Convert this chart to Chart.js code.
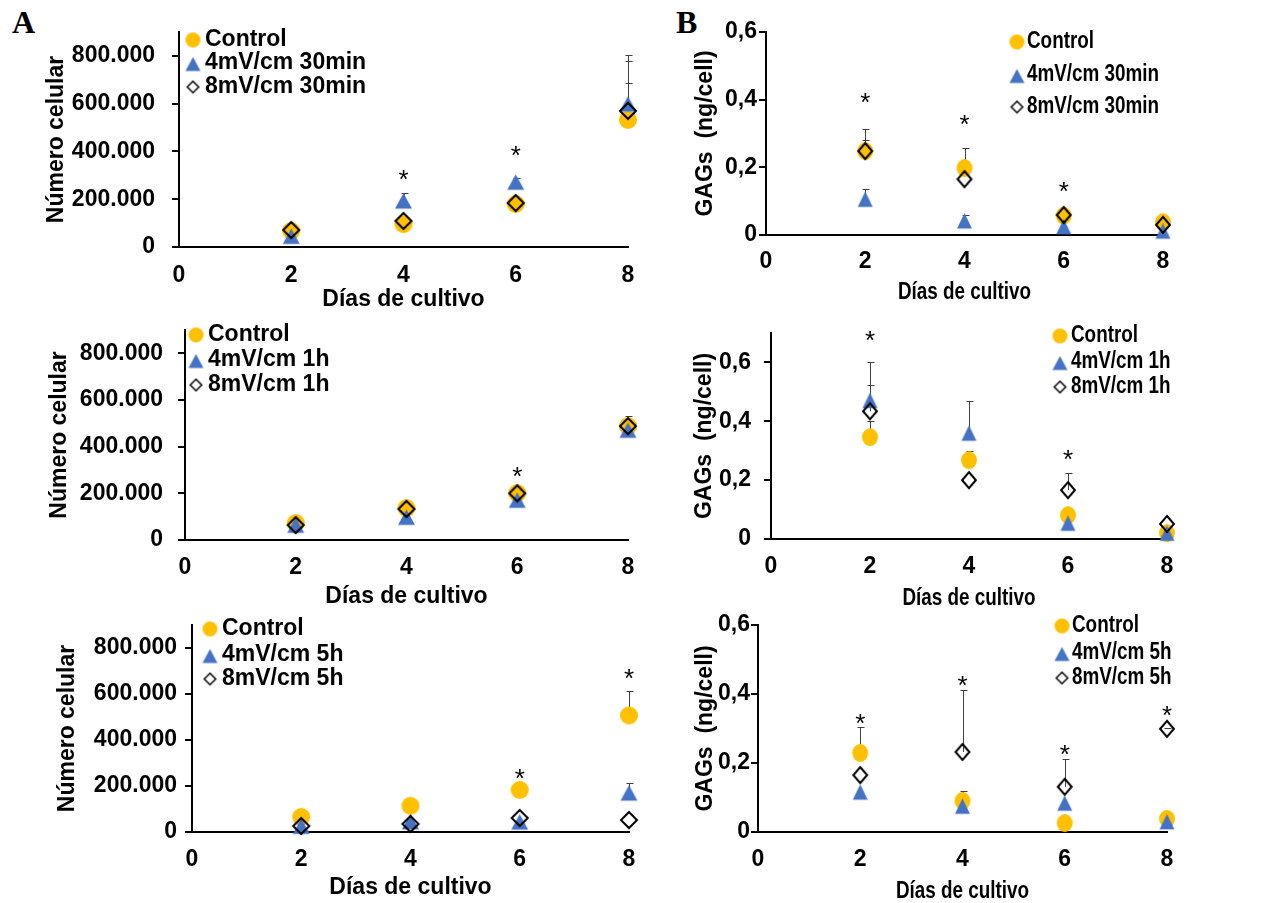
<!DOCTYPE html>
<html>
<head>
<meta charset="utf-8">
<script src="https://cdn.jsdelivr.net/npm/chart.js@4.4.1/dist/chart.umd.min.js"></script>
<style>
  html, body { margin: 0; padding: 0; background: #fff; }
  body { width: 1286px; height: 903px; position: relative; overflow: hidden; }
  canvas { position: absolute; }
  .tag { position: absolute; font-family: "Liberation Serif", "Times New Roman", serif; font-weight: bold; font-size: 32px; line-height: 1; }
</style>
</head>
<body>
<div class="tag" style="left:12px;top:6px">A</div>
<div class="tag" style="left:676px;top:6px">B</div>
<script>
// === DATA ===

const days = [2, 4, 6, 8];
const xTicks = [0, 2, 4, 6, 8];
const cellTicks = [0, 200000, 400000, 600000, 800000];
const gagTicks = [0, 0.2, 0.4, 0.6];

const names30 = ["Control", "4mV/cm 30min", "8mV/cm 30min"];
const names1h = ["Control", "4mV/cm 1h", "8mV/cm 1h"];
const names5h = ["Control", "4mV/cm 5h", "8mV/cm 5h"];

// A - cell number, 30 min
const a1Control = [67000, 96000, 180000, 532000];
const a1Tri = [45000, 193000, 272000, 599000];
const a1Dia = [71000, 109000, 184000, 570000];
const a1ControlErr = [0, 0, 0, 156000];
const a1TriErr = [0, 33000, 15000, 206000];
const a1DiaErr = [0, 0, 0, 210000];
const a1Stars = [null, 310000, 410000, null];

// A - cell number, 1 h
const a2Control = [73000, 137000, 201000, 488000];
const a2Tri = [64000, 98000, 171000, 471000];
const a2Dia = [64000, 133000, 200000, 488000];
const a2ControlErr = [0, 0, 0, 45000];
const a2TriErr = [0, 0, 0, 0];
const a2DiaErr = [0, 0, 0, 0];
const a2Stars = [null, null, 300000, null];

// A - cell number, 5 h
const a3Control = [66000, 114000, 183000, 507000];
const a3Tri = [25000, 45000, 44000, 170000];
const a3Dia = [26000, 35000, 61000, 52000];
const a3ControlErr = [0, 0, 0, 104000];
const a3TriErr = [0, 0, 0, 44000];
const a3DiaErr = [0, 0, 0, 0];
const a3Stars = [null, null, 261000, 696000];

// B - GAGs, 30 min
const b1Control = [0.248, 0.198, 0.057, 0.038];
const b1Tri = [0.106, 0.042, 0.025, 0.012];
const b1Dia = [0.248, 0.165, 0.059, 0.030];
const b1ControlErr = [0.065, 0.059, 0, 0];
const b1TriErr = [0.029, 0.016, 0, 0];
const b1DiaErr = [0.032, 0, 0, 0];
const b1Stars = [0.411, 0.346, 0.148, null];

// B - GAGs, 1 h
const b2Control = [0.346, 0.268, 0.081, 0.02];
const b2Tri = [0.471, 0.36, 0.054, 0.02];
const b2Dia = [0.434, 0.2, 0.166, 0.051];
const b2ControlErr = [0.054, 0.03, 0, 0];
const b2TriErr = [0.13, 0.108, 0, 0];
const b2DiaErr = [0.088, 0, 0.058, 0];
const b2Stars = [0.697, null, 0.292, null];

// B - GAGs, 5 h
const b3Control = [0.229, 0.09, 0.026, 0.038];
const b3Tri = [0.116, 0.075, 0.084, 0.03];
const b3Dia = [0.165, 0.232, 0.131, 0.299];
const b3ControlErr = [0.076, 0.03, 0, 0];
const b3TriErr = [0, 0, 0, 0];
const b3DiaErr = [0, 0.18, 0.081, 0.002];
const b3Stars = [0.333, 0.443, 0.243, 0.357];

// === STYLE ===

const ORANGE = "#FFC000";
const BLUE = "#4472C4";
const FONT = '"Liberation Sans", Arial, sans-serif';
const PAD_TOP = 15;
const PAD_RIGHT = 20;
const PAD_BOTTOM = 2;
const TICK_SIZE = 23;
const TITLE_SIZE = 23;
const TICK_LH = TICK_SIZE * 1.2;

Chart.defaults.font.family = FONT;
Chart.defaults.font.weight = "bold";
Chart.defaults.color = "#000";

function fmtCell(v) {
  return String(v).replace(/\B(?=(\d{3})+(?!\d))/g, ".");
}

function fmtGag(v) {
  return v === 0 ? "0" : v.toFixed(1).replace(".", ",");
}

// === MARKERS (small canvases, sq squeezes them sideways) ===

function makeMarker(kind, size, sq, lw) {
  const w = size * sq, h = size;
  const c = document.createElement("canvas");
  c.width = Math.ceil(w) + 6;
  c.height = Math.ceil(h) + 6;
  const g = c.getContext("2d");
  const cx = c.width / 2, cy = c.height / 2;
  g.beginPath();
  if (kind === "circle") {
    g.ellipse(cx, cy, w / 2, h / 2, 0, 0, Math.PI * 2);
    g.fillStyle = ORANGE;
    g.fill();
  } else if (kind === "triangle") {
    const th = h * 0.92;
    g.moveTo(cx, cy - th / 2);
    g.lineTo(cx + w / 2, cy + th / 2);
    g.lineTo(cx - w / 2, cy + th / 2);
    g.closePath();
    g.fillStyle = BLUE;
    g.fill();
  } else {
    const rw = w / 2 - lw / 2, rh = h / 2 - lw / 2;
    g.moveTo(cx, cy - rh);
    g.lineTo(cx + rw, cy);
    g.lineTo(cx, cy + rh);
    g.lineTo(cx - rw, cy);
    g.closePath();
    g.strokeStyle = "#000";
    g.lineWidth = lw;
    g.lineJoin = "miter";
    g.stroke();
  }
  return c;
}

// === DECOR PLUGIN (error bars, asterisks, legend, x title) ===

function decorPlugin(p, names, stars, legendMarks, toY) {
  return {
    id: "decor",
    beforeDatasetsDraw(chart) {
      const { ctx } = chart;
      const xs = chart.scales.x, ys = chart.scales.y;
      ctx.save();
      ctx.strokeStyle = "#404040";
      ctx.lineWidth = 1;
      chart.data.datasets.forEach(ds => {
        ds.data.forEach((pt, i) => {
          const e = ds.errUp[i];
          if (!e) return;
          const px = Math.round(xs.getPixelForValue(pt.x)) + 0.5;
          const y0 = ys.getPixelForValue(pt.y);
          const y1 = Math.round(ys.getPixelForValue(pt.y + e)) + 0.5;
          ctx.beginPath();
          ctx.moveTo(px, y0);
          ctx.lineTo(px, y1);
          ctx.moveTo(px - 3, y1);
          ctx.lineTo(px + 4, y1);
          ctx.stroke();
        });
      });
      ctx.restore();
    },
    afterDraw(chart) {
      const { ctx, chartArea } = chart;
      const xs = chart.scales.x, ys = chart.scales.y;
      ctx.save();

      // asterisks
      ctx.fillStyle = "#000";
      ctx.font = "26px " + FONT;
      ctx.textAlign = "center";
      ctx.textBaseline = "alphabetic";
      stars.forEach((v, i) => {
        if (v == null) return;
        ctx.fillText("*", xs.getPixelForValue(days[i]), ys.getPixelForValue(v) + 0.58 * 26);
      });

      // x axis title
      ctx.save();
      ctx.translate((chartArea.left + chartArea.right) / 2, toY(p.xTitleY));
      ctx.scale(p.sq, 1);
      ctx.font = "bold " + TITLE_SIZE + "px " + FONT;
      ctx.textBaseline = "middle";
      ctx.fillText("Días de cultivo", 0, 0);
      ctx.restore();

      // legend
      const mx = p.legend.mx - p.x0;
      const tx = p.legend.tx - p.x0;
      ctx.font = "bold 23px " + FONT;
      ctx.textAlign = "left";
      ctx.textBaseline = "middle";
      names.forEach((name, i) => {
        const ly = toY(p.legend.y[i]);
        const m = legendMarks[i];
        ctx.drawImage(m, mx - m.width / 2, ly - m.height / 2 + (i === 1 ? 1 : 0));
        ctx.save();
        ctx.translate(tx, ly);
        ctx.scale(p.sq, 1);
        ctx.fillText(name, 0, 0);
        ctx.restore();
      });
      ctx.restore();
    }
  };
}

// === PANEL BUILDER ===

function makePanel(p, names, control, tri, dia, errs, stars) {
  const x0 = p.x0;
  const cl = p.L - x0;
  const cr = p.R - x0;
  const top = p.T - PAD_TOP;
  const xH = p.xTitleY - p.B + 16;
  const width = cr + PAD_RIGHT;
  const height = Math.round(PAD_TOP + (p.B - p.T) + xH + PAD_BOTTOM);

  const canvas = document.createElement("canvas");
  canvas.width = width;
  canvas.height = height;
  canvas.style.left = x0 + "px";
  canvas.style.top = top + "px";
  document.body.appendChild(canvas);

  const toY = Y => Y - top;
  const pts = vals => days.map((d, i) => ({ x: d, y: vals[i] }));
  const yTickList = p.cell ? cellTicks : gagTicks;
  const msq = p.sq === 1 ? 1 : 0.88;

  const marks = [makeMarker("circle", 18, msq, 0), makeMarker("triangle", 17, msq, 0), makeMarker("diamond", 18, msq, 2)];
  const legendMarks = [makeMarker("circle", 15, 1, 0), makeMarker("triangle", 15, 1, 0), makeMarker("diamond", 13, 1, 1.5)];

  new Chart(canvas, {
    type: "scatter",
    data: {
      datasets: [
        { label: names[0], data: pts(control), errUp: errs[0], pointStyle: marks[0], pointRadius: 9, order: 2, clip: false },
        { label: names[1], data: pts(tri), errUp: errs[1], pointStyle: marks[1], pointRadius: 9, order: 1, clip: false },
        { label: names[2], data: pts(dia), errUp: errs[2], pointStyle: marks[2], pointRadius: 9, order: 0, clip: false }
      ]
    },
    options: {
      responsive: false,
      animation: false,
      events: [],
      layout: { padding: { left: 0, top: PAD_TOP, right: PAD_RIGHT, bottom: PAD_BOTTOM } },
      plugins: { legend: { display: false }, tooltip: { enabled: false } },
      scales: {
        x: {
          type: "linear", min: 0, max: 8,
          afterBuildTicks: s => { s.ticks = xTicks.map(v => ({ value: v })); },
          afterFit: s => { s.height = xH; s.paddingLeft = 0; s.paddingRight = 0; },
          grid: { display: false, drawTicks: false },
          border: { display: true, color: "#000", width: 2 },
          ticks: { padding: p.xTickY - p.B - TICK_LH / 2, font: { size: TICK_SIZE, weight: "bold" }, maxRotation: 0 },
          title: { display: false }
        },
        y: {
          type: "linear", min: 0, max: p.yMax,
          afterBuildTicks: s => { s.ticks = yTickList.map(v => ({ value: v })); },
          afterFit: s => { s.width = cl; s.paddingTop = 0; s.paddingBottom = 0; },
          grid: { drawOnChartArea: false, drawTicks: true, tickLength: 7, color: "#000", lineWidth: 2 },
          border: { display: true, color: "#000", width: 2 },
          ticks: { padding: p.yTickPad, font: { size: TICK_SIZE, weight: "bold" }, callback: v => (p.cell ? fmtCell(v) : fmtGag(v)) },
          title: { display: true, text: p.yTitle, font: { size: TITLE_SIZE, weight: "bold" },
                   padding: { top: p.yTitleX - x0 - TITLE_SIZE * 0.6, bottom: 0 } }
        }
      }
    },
    plugins: [decorPlugin(p, names, stars, legendMarks, toY)]
  });
}

// === LAYOUT (screen pixels) ===

const cellTitle = "Número celular";
const gagTitle = "GAGs  (ng/cell)";
const NARROW = 0.82;

makePanel({ cell: true, x0: 0, sq: 1, L: 179, R: 628, T: 32, B: 247, yMax: 900000, yTitle: cellTitle,
  yTitleX: 57, xTickY: 276, xTitleY: 300, yTickPad: 17, legend: { mx: 193, tx: 205, y: [40, 63, 87] } },
  names30, a1Control, a1Tri, a1Dia, [a1ControlErr, a1TriErr, a1DiaErr], a1Stars);

makePanel({ cell: true, x0: 0, sq: 1, L: 185, R: 628, T: 330, B: 540, yMax: 900000, yTitle: cellTitle,
  yTitleX: 60, xTickY: 568, xTitleY: 597, yTickPad: 15, legend: { mx: 196, tx: 208, y: [335, 360, 385] } },
  names1h, a2Control, a2Tri, a2Dia, [a2ControlErr, a2TriErr, a2DiaErr], a2Stars);

makePanel({ cell: true, x0: 0, sq: 1, L: 192, R: 629, T: 625, B: 832, yMax: 900000, yTitle: cellTitle,
  yTitleX: 68, xTickY: 860, xTitleY: 888, yTickPad: 8, legend: { mx: 210, tx: 222, y: [629, 655, 679] } },
  names5h, a3Control, a3Tri, a3Dia, [a3ControlErr, a3TriErr, a3DiaErr], a3Stars);

makePanel({ cell: false, x0: 660, sq: NARROW, L: 766, R: 1163, T: 32, B: 235, yMax: 0.6, yTitle: gagTitle,
  yTitleX: 706, xTickY: 262, xTitleY: 293, yTickPad: 2, legend: { mx: 1017, tx: 1027, y: [42, 75, 107] } },
  names30, b1Control, b1Tri, b1Dia, [b1ControlErr, b1TriErr, b1DiaErr], b1Stars);

makePanel({ cell: false, x0: 660, sq: NARROW, L: 771, R: 1167, T: 333, B: 539, yMax: 0.7, yTitle: gagTitle,
  yTitleX: 705, xTickY: 567, xTitleY: 599, yTickPad: 13, legend: { mx: 1060, tx: 1071, y: [336, 362, 387] } },
  names1h, b2Control, b2Tri, b2Dia, [b2ControlErr, b2TriErr, b2DiaErr], b2Stars);

makePanel({ cell: false, x0: 660, sq: NARROW, L: 758, R: 1167, T: 625, B: 832, yMax: 0.6, yTitle: gagTitle,
  yTitleX: 706, xTickY: 860, xTitleY: 892, yTickPad: 1, legend: { mx: 1062, tx: 1072, y: [626, 653, 678] } },
  names5h, b3Control, b3Tri, b3Dia, [b3ControlErr, b3TriErr, b3DiaErr], b3Stars);
</script>
</body>
</html>
